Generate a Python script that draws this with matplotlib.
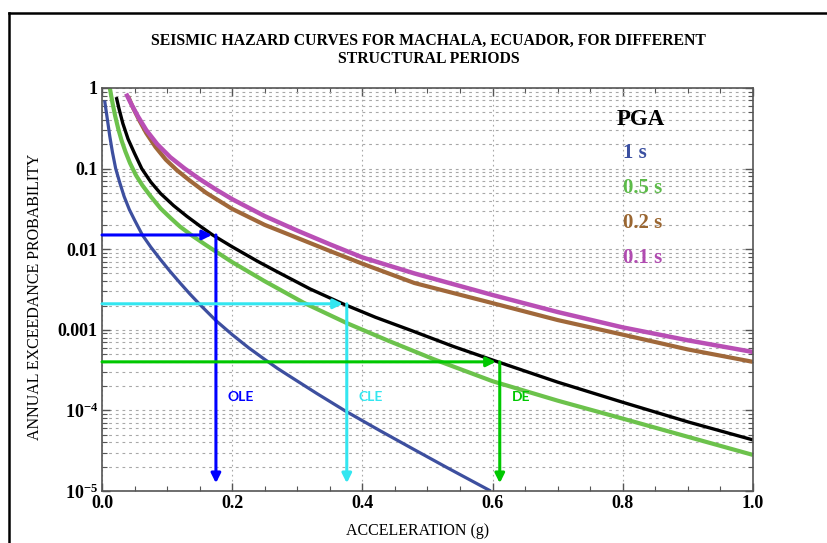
import matplotlib
matplotlib.use("Agg")
import matplotlib.pyplot as plt
from matplotlib.lines import Line2D
from matplotlib.ticker import FixedLocator, MultipleLocator, NullFormatter, LogLocator
import numpy as np

# hazard curves (acceleration g, annual exceedance probability)
pga_x = [0.022, 0.026, 0.032, 0.04, 0.05, 0.061, 0.075, 0.09, 0.11, 0.13, 0.15, 0.17, 0.2, 0.24, 0.27,
         0.32, 0.37, 0.42, 0.475, 0.54, 0.608, 0.7, 0.8, 0.9, 1.0]
pga_y = [0.77, 0.557, 0.363, 0.233, 0.154, 0.1, 0.068, 0.049, 0.0347, 0.0257, 0.0195, 0.015, 0.0107,
         0.0070, 0.0052, 0.0032, 0.0021, 0.00143, 0.00098, 0.00062, 0.0004, 0.000224, 0.000126,
         0.000072, 0.000043]

t1_x = [0.004, 0.008, 0.012, 0.016, 0.021, 0.027, 0.034, 0.042, 0.05, 0.062, 0.075, 0.09, 0.105, 0.12,
        0.135, 0.15, 0.175, 0.2, 0.225, 0.248, 0.27, 0.29, 0.33, 0.375, 0.427, 0.479, 0.53, 0.597]
t1_y = [0.70, 0.42, 0.25, 0.16, 0.10, 0.068, 0.045, 0.031, 0.023, 0.015, 0.0106, 0.0074, 0.00525,
        0.0038, 0.00278, 0.00207, 0.0013, 0.00087, 0.0006, 0.00044, 0.00033, 0.00026, 0.000162,
        0.000097, 0.000056, 0.0000328, 0.0000195, 0.00001]

t05_x = [0.012, 0.016, 0.02, 0.025, 0.03, 0.036, 0.043, 0.052, 0.062, 0.075, 0.09, 0.105, 0.12, 0.138,
         0.16, 0.2, 0.25, 0.31, 0.376, 0.44, 0.51, 0.6, 0.7, 0.8, 0.9, 1.0]
t05_y = [1.0, 0.66, 0.457, 0.31, 0.224, 0.162, 0.117, 0.083, 0.062, 0.045, 0.032, 0.0245, 0.019,
         0.0148, 0.0112, 0.0069, 0.0040, 0.00216, 0.00121, 0.00073, 0.00043, 0.00023, 0.000132,
         0.000079, 0.000047, 0.000028]

t02_x = [0.04, 0.048, 0.057, 0.068, 0.082, 0.098, 0.115, 0.135, 0.16, 0.2, 0.25, 0.3, 0.35, 0.4, 0.48,
         0.6, 0.7, 0.8, 0.9, 1.0]
t02_y = [0.79, 0.56, 0.40, 0.275, 0.186, 0.129, 0.0955, 0.0708, 0.050, 0.0316, 0.0200, 0.0138, 0.0095,
         0.0066, 0.0038, 0.00214, 0.00132, 0.00087, 0.00057, 0.0004]

t01_x = [0.037, 0.045, 0.055, 0.068, 0.085, 0.105, 0.127, 0.15, 0.175, 0.2, 0.25, 0.3, 0.35, 0.4, 0.48,
         0.6, 0.7, 0.8, 0.9, 1.0]
t01_y = [0.85, 0.63, 0.447, 0.30, 0.20, 0.138, 0.1, 0.074, 0.055, 0.0417, 0.0257, 0.017, 0.0115, 0.0079,
         0.005, 0.0027, 0.00166, 0.00107, 0.00074, 0.00053]

# design levels
level_names = ["OLE", "CLE", "DE"]
level_prob = [0.015, 0.0021, 0.0004]
level_acc = [0.175, 0.376, 0.611]

legend_names = ["PGA", "1 s", "0.5 s", "0.2 s", "0.1 s"]

ytick_vals = [1, 0.1, 0.01, 0.001, 1e-4, 1e-5]
ytick_text = ["1", "0.1", "0.01", "0.001", r"$\mathbf{10^{-4}}$", r"$\mathbf{10^{-5}}$"]
xtick_vals = [0.0, 0.2, 0.4, 0.6, 0.8, 1.0]


def main():
    plt.rcParams["font.family"] = ["Liberation Serif", "DejaVu Serif"]
    plt.rcParams["mathtext.fontset"] = "custom"
    plt.rcParams["mathtext.bf"] = "Liberation Serif:bold"
    plt.rcParams["mathtext.rm"] = "Liberation Serif:bold"

    fig = plt.figure(figsize=(8.28, 5.43), dpi=100)
    ax = fig.add_axes([0.1232, 0.0958, 0.7862, 0.7422])

    # grid
    ax.set_yscale("log")
    ax.set_xlim(0, 1)
    ax.set_ylim(1e-5, 1)
    ax.yaxis.set_major_locator(FixedLocator(ytick_vals))
    ax.yaxis.set_minor_locator(LogLocator(base=10, subs=np.arange(2, 10)))
    ax.yaxis.set_minor_formatter(NullFormatter())
    ax.set_yticklabels(ytick_text)
    ax.xaxis.set_major_locator(FixedLocator(xtick_vals))
    ax.xaxis.set_minor_locator(MultipleLocator(0.05))
    ax.set_xticklabels(["%.1f" % v for v in xtick_vals])

    ax.grid(True, which="both", axis="y", color="#a8a8a8", lw=0.8, ls=(0, (2.5, 3.5)))
    ax.grid(True, which="major", axis="x", color="#a8a8a8", lw=0.8, ls=(0, (1.5, 3)))

    ax.tick_params(which="both", direction="in", top=True, right=True, color="#555555")
    ax.tick_params(which="major", length=6, width=1)
    ax.tick_params(which="minor", length=3.5, width=0.8)
    ax.tick_params(axis="both", which="major", labelsize=13, pad=3)
    for lab in ax.get_xticklabels() + ax.get_yticklabels():
        lab.set_fontweight("bold")
    for sp in ax.spines.values():
        sp.set_color("#555555")
        sp.set_linewidth(1.2)

    # curves
    ax.plot(t02_x, t02_y, color="#a0683a", lw=3.0, solid_capstyle="butt")
    ax.plot(t01_x, t01_y, color="#b94fb5", lw=3.2, solid_capstyle="butt")
    ax.plot(t05_x, t05_y, color="#6cc24c", lw=3.0, solid_capstyle="butt")
    ax.plot(t1_x, t1_y, color="#3d4f9f", lw=2.3, solid_capstyle="butt")
    ax.plot(pga_x, pga_y, color="black", lw=2.4, solid_capstyle="butt")

    # design arrows
    arrow_cols = ["#0000ff", "#33e6f0", "#00c800"]
    for name, p, a, c in zip(level_names, level_prob, level_acc, arrow_cols):
        ax.annotate("", xy=(a - 0.006, p), xytext=(0, p),
                    arrowprops=dict(arrowstyle="-|>", color=c, lw=2.2, mutation_scale=14,
                                    shrinkA=0, shrinkB=0))
        ax.annotate("", xy=(a, 1.25e-5), xytext=(a, p),
                    arrowprops=dict(arrowstyle="-|>", color=c, lw=2.2, mutation_scale=14,
                                    shrinkA=0, shrinkB=0))
        ax.text(a + 0.018, 1.45e-4, name, color=c, fontsize=10, fontweight="bold",
                family=["Lato", "DejaVu Sans"], ha="left", va="center")

    # legend written as coloured text
    leg_cols = ["black", "#3a4fa0", "#5dbb4a", "#9a6631", "#b04bb0"]
    leg_y = [0.921, 0.839, 0.751, 0.664, 0.578]
    for i, (name, c) in enumerate(zip(legend_names, leg_cols)):
        ax.text(0.791 if i == 0 else 0.8, leg_y[i], name, color=c, transform=ax.transAxes,
                fontsize=16.5 if i == 0 else 15, fontweight="bold", ha="left", va="center")

    fig.text(418 / 828, 1 - 531 / 543, "ACCELERATION (g)", fontsize=11.5, ha="center", va="center")
    fig.text(35 / 828, 1 - 297 / 543, "ANNUAL EXCEEDANCE PROBABILITY", fontsize=11.5,
             rotation=90, ha="center", va="center")
    fig.text(0.5175, 0.908, "SEISMIC HAZARD CURVES FOR MACHALA, ECUADOR, FOR DIFFERENT\nSTRUCTURAL PERIODS",
             ha="center", va="center", fontsize=11.3, fontweight="bold", linespacing=1.25)

    # page frame
    fig.add_artist(Line2D([9 / 828, 9 / 828], [0, 1 - 13 / 543], transform=fig.transFigure,
                          color="black", lw=1.8))
    fig.add_artist(Line2D([9 / 828, 1], [1 - 13 / 543, 1 - 13 / 543], transform=fig.transFigure,
                          color="black", lw=1.8))

    fig.savefig("out.png", dpi=100)


if __name__ == "__main__":
    main()
